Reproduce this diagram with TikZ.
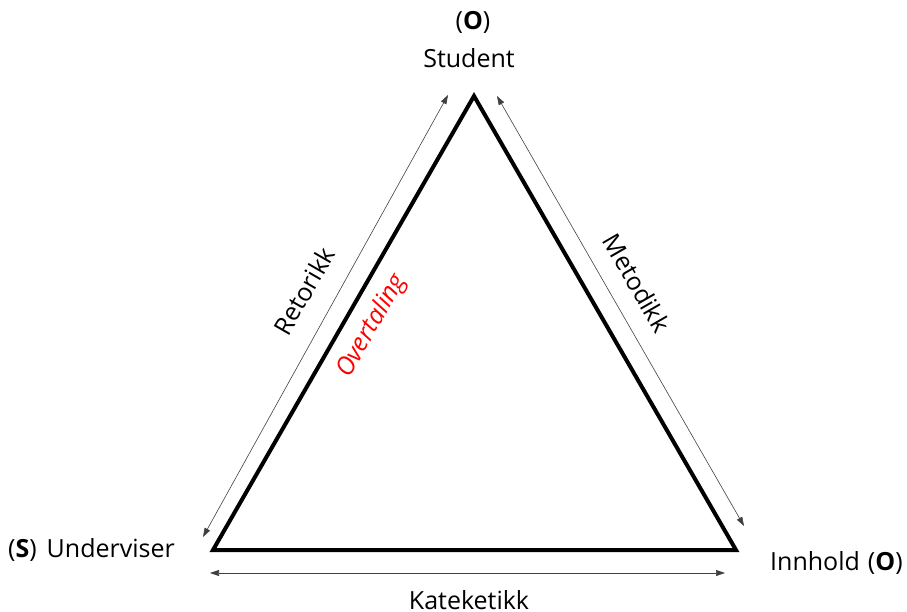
\documentclass[tikz,border=0pt]{standalone}
\usepackage{fontspec}
\setmainfont{Open Sans}
\usetikzlibrary{arrows.meta}
\begin{document}
\begin{tikzpicture}[x=1pt,y=-1pt,
  lbl/.style={inner sep=0pt,font=\fontsize{25}{29}\selectfont},
  side/.style={line width=4pt,line join=miter},
  dbl/.style={line width=0.6pt,draw=black!75,{Triangle[length=9pt,width=6pt]}-{Triangle[length=9pt,width=6pt]}}]
\useasboundingbox (0,0) rectangle (907,611);
% triangle vertices
\coordinate (T) at (474,96);
\coordinate (L) at (213,550);
\coordinate (R) at (736,550);
\draw[side] (T) -- (R) -- (L) -- cycle;
% arrow end points
\coordinate (a1) at (448,95);
\coordinate (a2) at (203,537);
\coordinate (b1) at (497,96);
\coordinate (b2) at (744,526);
\coordinate (c1) at (210,573);
\coordinate (c2) at (725,573);
\draw[dbl] (a1) -- (a2);
\draw[dbl] (b1) -- (b2);
\draw[dbl] (c1) -- (c2);
% labels
\node[lbl] (o1) at (473,22) {(\textbf{O})};
\node[lbl] (stud) at (469,58) {Student};
\node[lbl,anchor=west] (und) at (8,550) {(\textbf{S})\hspace{10pt}Underviser};
\node[lbl,anchor=west] (inn) at (770,563) {Innhold\hspace{8pt}(\textbf{O})};
\node[lbl] (kat) at (469,600) {Kateketikk};
\node[lbl,rotate=60] (ret) at (304,291) {Retorikk};
\node[lbl,rotate=60,text=red,font=\fontsize{25}{29}\selectfont\itshape] (ove) at (372,326) {Overtaling};
\node[lbl,rotate=-60] (met) at (637,283) {Metodikk};
\end{tikzpicture}
\end{document}
